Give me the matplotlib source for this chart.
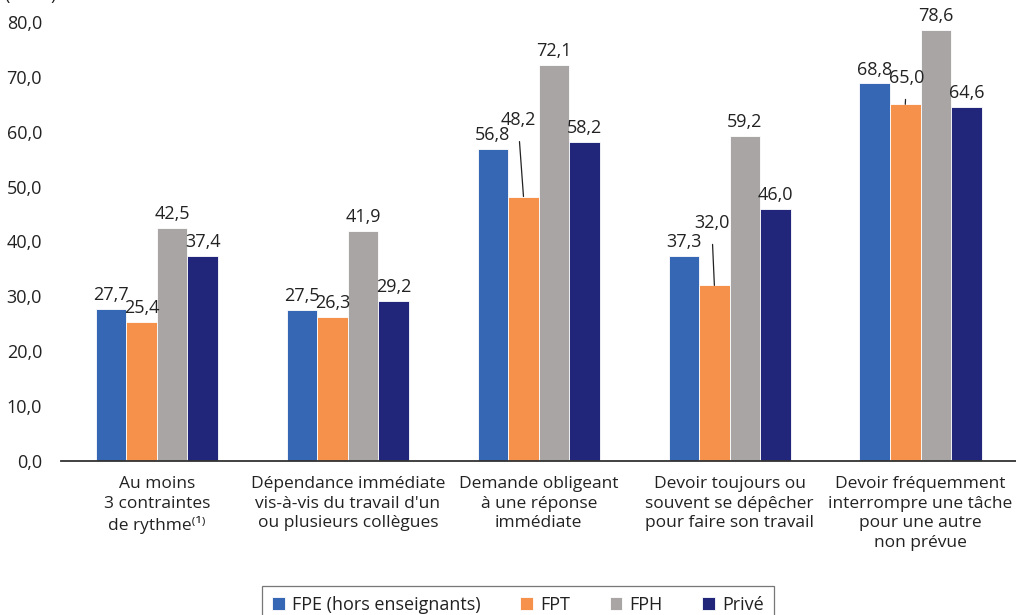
import matplotlib.pyplot as plt
import numpy as np

plt.rcParams['font.family'] = ['Open Sans', 'DejaVu Sans']

# Data
categories = [
    "Au moins\n3 contraintes\nde rythme⁽¹⁾",
    "Dépendance immédiate\nvis-à-vis du travail d'un\nou plusieurs collègues",
    "Demande obligeant\nà une réponse\nimmédiate",
    "Devoir toujours ou\nsouvent se dépêcher\npour faire son travail",
    "Devoir fréquemment\ninterrompre une tâche\npour une autre\nnon prévue",
]
series_names = ["FPE (hors enseignants)", "FPT", "FPH", "Privé"]
fpe = [27.7, 27.5, 56.8, 37.3, 68.8]
fpt = [25.4, 26.3, 48.2, 32.0, 65.0]
fph = [42.5, 41.9, 72.1, 59.2, 78.6]
prive = [37.4, 29.2, 58.2, 46.0, 64.6]
yticks = [0, 10, 20, 30, 40, 50, 60, 70, 80]

colors = ['#3567b5', '#f5914a', '#a8a5a4', '#22267a']
text_color = '#222222'

fig = plt.figure(figsize=(10.16, 6.15), dpi=100)
ax = fig.add_axes([61.5 / 1016, 1 - 461 / 615, 1 - 61.5 / 1016, (461 - 22) / 615])

x = np.arange(len(categories))
width = 0.16
all_series = [fpe, fpt, fph, prive]

# offsets (points) for the FPT labels that have a leader line
leader_offsets = {2: (-4, 55), 3: (-2, 45), 4: (1, 19)}

for i, (vals, col, name) in enumerate(zip(all_series, colors, series_names)):
    pos = x + (i - 1.5) * width
    ax.bar(pos, vals, width, color=col, edgecolor='white', linewidth=0.6, label=name, zorder=2)
    for j, (px, v) in enumerate(zip(pos, vals)):
        lbl = f"{v:.1f}".replace('.', ',')
        if i == 1 and j in leader_offsets:
            ax.annotate(lbl, xy=(px, v), xytext=leader_offsets[j], textcoords='offset points',
                        ha='center', va='center', fontsize=13, color=text_color,
                        arrowprops=dict(arrowstyle='-', color='#222222', lw=0.9,
                                        shrinkA=7, shrinkB=0))
        else:
            ax.annotate(lbl, xy=(px, v), xytext=(0, 10), textcoords='offset points',
                        ha='center', va='center', fontsize=13, color=text_color)

ax.set_xlim(-0.5, len(categories) - 0.5)
ax.set_ylim(0, 80)
ax.set_yticks(yticks)
ax.set_yticklabels([f"{t:.1f}".replace('.', ',') for t in yticks], fontsize=13, color=text_color)
ax.set_xticks(x)
ax.set_xticklabels(categories, fontsize=12.5, color=text_color, linespacing=1.3)
ax.tick_params(axis='y', length=0, pad=14)
ax.tick_params(axis='x', length=0, pad=11)

for s in ['top', 'right', 'left']:
    ax.spines[s].set_visible(False)
ax.spines['bottom'].set_color('#333333')
ax.spines['bottom'].set_linewidth(1.3)

fig.text(5 / 1016, 1 - 4 / 615, "(en %)", fontsize=13, color=text_color, ha='left', va='bottom')

leg = fig.legend(loc='upper center', bbox_to_anchor=(518 / 1016, 1 - 586 / 615), ncol=4,
                 fontsize=13, frameon=True, fancybox=False, edgecolor='#555555',
                 handlelength=0.7, handleheight=0.7, handletextpad=0.4, columnspacing=2.2,
                 borderpad=0.55, borderaxespad=0, labelcolor=text_color)
leg.get_frame().set_linewidth(0.9)

fig.savefig('out.png', dpi=100)
